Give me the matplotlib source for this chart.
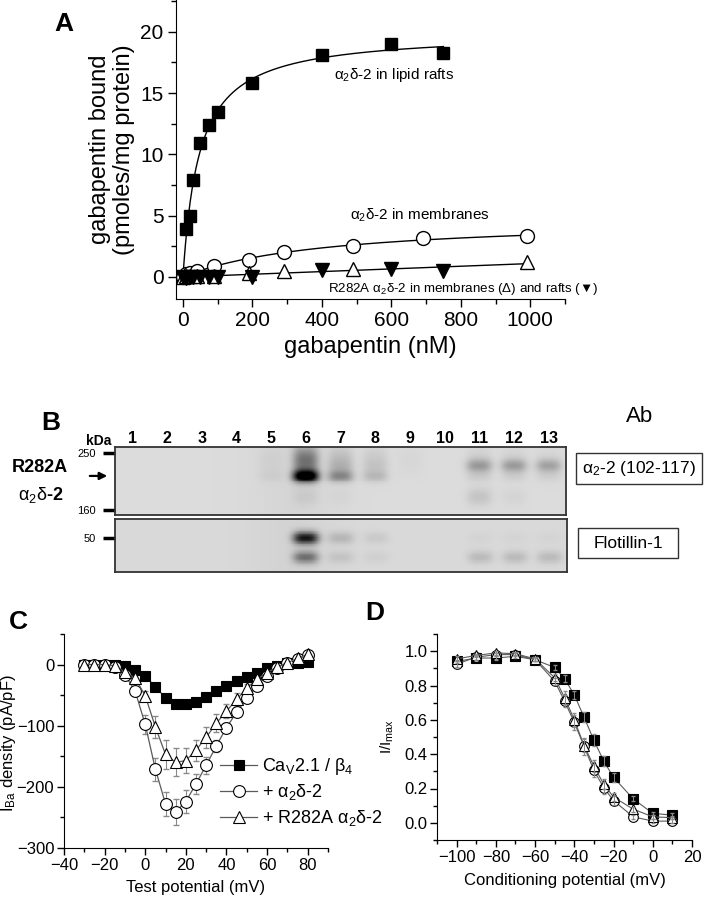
import numpy as np
import matplotlib.pyplot as plt
from matplotlib import font_manager
from matplotlib.patches import Rectangle
from matplotlib.ticker import MultipleLocator, NullLocator

plt.rcParams['font.family'] = ['Liberation Sans', 'DejaVu Sans']
plt.rcParams['mathtext.fontset'] = 'custom'
plt.rcParams['mathtext.rm'] = 'Liberation Sans'
plt.rcParams['mathtext.it'] = 'Liberation Sans:italic'
plt.rcParams['mathtext.bf'] = 'Liberation Sans:bold'

names = {f.name for f in font_manager.fontManager.ttflist}
narrow = 'Liberation Sans Narrow' if 'Liberation Sans Narrow' in names else 'Liberation Sans'

# ---- panel A: gabapentin binding ----
raft_x = [0, 10, 20, 30, 50, 75, 100, 200, 400, 600, 750]
raft_y = [0.0, 3.9, 5.0, 7.9, 10.9, 12.4, 13.5, 15.8, 18.1, 19.0, 18.3]
memb_x = [0, 10, 20, 40, 90, 190, 290, 490, 690, 990]
memb_y = [0.0, 0.2, 0.3, 0.5, 0.9, 1.4, 2.0, 2.55, 3.15, 3.35]
mut_memb_x = [0, 10, 20, 40, 90, 190, 290, 490, 990]
mut_memb_y = [0.0, 0.05, 0.05, 0.1, 0.1, 0.35, 0.5, 0.65, 1.25]
mut_raft_x = [0, 10, 20, 30, 50, 75, 100, 200, 400, 600, 750]
mut_raft_y = [0.0, -0.05, 0.0, 0.0, 0.0, 0.0, 0.0, 0.0, 0.55, 0.65, 0.45]

# ---- panel B: western blot (band densities per lane) ----
lane_numbers = list(range(1, 14))
alpha_band_kda = 209
alpha_band = [0, 0, 0, 0, 0.03, 0.95, 0.3, 0.12, 0, 0, 0.05, 0.04, 0.04]
alpha_smear_kda = 236
alpha_smear = [0, 0, 0, 0, 0.03, 0.4, 0.12, 0.07, 0.02, 0, 0.05, 0.04, 0.03]
alpha_upper_kda = 227
alpha_upper = [0, 0, 0, 0, 0, 0, 0.05, 0.03, 0, 0, 0.22, 0.22, 0.2]
alpha_low_kda = 177
alpha_low = [0, 0, 0, 0, 0, 0.05, 0.02, 0, 0, 0, 0.09, 0.03, 0]
flot_kda = 50
flot_band = [0, 0, 0, 0, 0, 0.75, 0.13, 0.06, 0, 0, 0.02, 0.02, 0.02]
flot_lower_kda = 43
flot_lower = [0, 0, 0, 0, 0, 0.4, 0.08, 0.04, 0, 0, 0.12, 0.12, 0.12]

# ---- panel C: I-V ----
test_v = list(range(-30, 85, 5))
iv_ctrl = [0, 0, 0, 0, -2, -9, -19, -36, -55, -64, -65, -61, -53, -44, -35, -27, -20, -13, -6, -2, 2, 3, 4]
iv_ctrl_err = [2, 2, 2, 2, 2, 2, 3, 4, 5, 6, 6, 5, 4, 4, 3, 3, 3, 2, 2, 2, 2, 2, 2]
iv_wt = [0, 0, 0, -4, -17, -43, -98, -171, -228, -241, -224, -195, -165, -133, -103, -78, -55, -35, -18, -6, 2, 9, 15]
iv_wt_err = [2, 2, 2, 3, 5, 6, 15, 19, 20, 21, 19, 16, 14, 10, 8, 6, 5, 4, 3, 3, 3, 3, 3]
iv_mut = [0, 0, 0, -2, -12, -22, -51, -102, -147, -160, -157, -140, -119, -96, -76, -57, -39, -24, -13, -4, 3, 10, 17]
iv_mut_err = [2, 2, 2, 3, 4, 5, 8, 18, 23, 23, 20, 17, 17, 15, 12, 10, 7, 5, 4, 3, 3, 3, 3]

# ---- panel D: inactivation ----
cond_v = [-100, -90, -80, -70, -60, -50, -45, -40, -35, -30, -25, -20, -10, 0, 10]
inact_ctrl = [0.94, 0.96, 0.96, 0.97, 0.95, 0.905, 0.84, 0.745, 0.615, 0.48, 0.36, 0.265, 0.14, 0.055, 0.045]
inact_ctrl_err = [0.01, 0.01, 0.01, 0.01, 0.01, 0.015, 0.02, 0.025, 0.03, 0.035, 0.03, 0.025, 0.015, 0.01, 0.01]
inact_wt = [0.925, 0.965, 0.98, 0.98, 0.95, 0.825, 0.71, 0.585, 0.445, 0.305, 0.205, 0.13, 0.035, 0.01, 0.01]
inact_wt_err = [0.02, 0.015, 0.01, 0.01, 0.01, 0.02, 0.035, 0.045, 0.05, 0.04, 0.035, 0.025, 0.01, 0.01, 0.01]
inact_mut = [0.955, 0.975, 0.99, 0.985, 0.955, 0.845, 0.73, 0.6, 0.45, 0.33, 0.225, 0.15, 0.08, 0.035, 0.03]
inact_mut_err = [0.015, 0.01, 0.01, 0.01, 0.01, 0.02, 0.04, 0.04, 0.04, 0.035, 0.03, 0.025, 0.015, 0.01, 0.01]

W, H = 717, 899
fig = plt.figure(figsize=(W / 100, H / 100), dpi=100)


def add_ax(l, t, r, b):
    return fig.add_axes([l / W, 1 - b / H, (r - l) / W, (b - t) / H])


def ftext(x, y, s, **kw):
    kw.setdefault('ha', 'center')
    kw.setdefault('va', 'center')
    return fig.text(x / W, 1 - y / H, s, **kw)


def hyperbola_fit(x, y):
    x = np.asarray(x, float)
    y = np.asarray(y, float)
    best = (np.inf, 0, 0)
    for kd in np.geomspace(1, 1e5, 4000):
        f = x / (kd + x)
        b = f @ y / (f @ f)
        r = ((y - b * f) ** 2).sum()
        if r < best[0]:
            best = (r, b, kd)
    return best[1], best[2]


# ================= A =================
axA = add_ax(176, 0, 565, 299)
for xs, ys in [(raft_x, raft_y), (memb_x, memb_y),
               (mut_memb_x + mut_raft_x, mut_memb_y + mut_raft_y)]:
    bmax, kd = hyperbola_fit(xs, ys)
    xx = np.linspace(0, max(xs), 400)
    axA.plot(xx, bmax * xx / (kd + xx), color='k', lw=1)
axA.plot(raft_x, raft_y, 's', color='k', ms=8)
axA.plot(memb_x, memb_y, 'o', mfc='white', mec='k', mew=1, ms=10)
axA.plot(mut_memb_x, mut_memb_y, '^', mfc='white', mec='k', mew=1, ms=10)
axA.plot(mut_raft_x, mut_raft_y, 'v', color='k', ms=10)
axA.set_xlim(-20, 1100)
axA.set_ylim(-1.8, 22.6)
axA.set_xticks(range(0, 1001, 200))
axA.set_yticks(range(0, 21, 5))
axA.xaxis.set_minor_locator(MultipleLocator(100))
axA.yaxis.set_minor_locator(MultipleLocator(2.5))
axA.tick_params(which='major', direction='out', length=6, width=1, labelsize=15, pad=3)
axA.tick_params(which='minor', direction='out', length=3.5, width=1)
for s in ['top', 'right']:
    axA.spines[s].set_visible(False)
axA.set_ylabel('gabapentin bound\n(pmoles/mg protein)', fontsize=17, linespacing=1.15)
axA.yaxis.set_label_coords(-0.105, 0.5)
axA.set_xlabel('gabapentin (nM)', fontsize=17, labelpad=4)
axA.text(436, 16.5, r'$\mathrm{\alpha_2\delta}$-2 in lipid rafts', fontsize=11, va='center')
axA.text(482, 5.0, r'$\mathrm{\alpha_2\delta}$-2 in membranes', fontsize=11, va='center')
axA.text(418, -0.95, r'R282A $\mathrm{\alpha_2\delta}$-2 in membranes ($\mathrm{\Delta}$) and rafts (▼)',
         fontsize=9.6, va='center', clip_on=False)
ftext(64, 24, 'A', fontsize=19, weight='bold')


# ================= B =================
def draw_blot(ax, kda_lo, kda_hi, bands, bg):
    xe = np.linspace(0.5, 13.5, 452)
    ye = np.geomspace(kda_lo, kda_hi, 70)
    xc = 0.5 * (xe[1:] + xe[:-1])
    yc = np.log(np.sqrt(ye[1:] * ye[:-1]))
    X, Y = np.meshgrid(xc, yc)
    img = np.full(X.shape, bg) - 0.025 * np.exp(-((X - 5.6) / 1.2) ** 2)
    for kda, amps, sig in bands:
        for lane, a in zip(lane_numbers, amps):
            img -= a * np.exp(-np.abs((X - lane) / 0.37) ** 3) * \
                np.exp(-0.5 * ((Y - np.log(kda)) / sig) ** 2)
    ax.pcolormesh(xe, ye, np.clip(img, 0, 1), cmap='gray', vmin=0, vmax=1, shading='flat')
    ax.set_yscale('log')
    ax.set_ylim(kda_lo, kda_hi)
    ax.set_xlim(0.5, 13.5)
    ax.yaxis.set_minor_locator(NullLocator())
    ax.tick_params(axis='y', length=9, width=2.5, direction='out', pad=5, labelsize=8)
    for s in ax.spines.values():
        s.set_color('#333333')
        s.set_linewidth(1.3)


axB1 = add_ax(115, 447, 566, 515)
draw_blot(axB1, 154, 262, [(alpha_band_kda, alpha_band, 0.035),
                            (alpha_smear_kda, alpha_smear, 0.08),
                            (alpha_upper_kda, alpha_upper, 0.035),
                            (alpha_low_kda, alpha_low, 0.05)], 0.86)
axB1.set_yticks([160, 250], labels=['160', '250'])
axB1.xaxis.tick_top()
axB1.set_xticks(lane_numbers, labels=[str(n) for n in lane_numbers])
axB1.tick_params(axis='x', length=0, pad=1, labelsize=11.5)
for lab in axB1.get_xticklabels():
    lab.set_fontweight('bold')
    lab.set_family(narrow)
axB1.annotate('', xy=(-0.011, alpha_band_kda), xycoords=('axes fraction', 'data'),
              xytext=(-0.062, alpha_band_kda), textcoords=('axes fraction', 'data'),
              arrowprops=dict(arrowstyle='-|>', color='k', lw=1.6, mutation_scale=11),
              annotation_clip=False)

axB2 = add_ax(115, 519, 567, 572)
draw_blot(axB2, 38.3, 58, [(flot_kda, flot_band, 0.035),
                            (flot_lower_kda, flot_lower, 0.035)], 0.85)
axB2.set_yticks([50], labels=['50'])
axB2.set_xticks([])

ftext(51, 423, 'B', fontsize=19, weight='bold')
ftext(99, 441, 'kDa', fontsize=10, weight='bold', family=narrow)
ftext(40, 467, 'R282A', fontsize=13, weight='bold')
ftext(41, 495, r'$\mathrm{\alpha_2\delta}$-2', fontsize=13, weight='bold')
ftext(640, 417, 'Ab', fontsize=16)
for (l, t, r, b), s in [((576, 453, 702, 484), r'$\mathrm{\alpha}_2$-2 (102-117)'),
                        ((578, 528, 678, 558), 'Flotillin-1')]:
    fig.add_artist(Rectangle((l / W, 1 - b / H), (r - l) / W, (b - t) / H,
                             transform=fig.transFigure, fc='white', ec='#333333', lw=1))
    ftext((l + r) / 2, (t + b) / 2, s, fontsize=12.5)

# ================= C =================
line_c = '#5a5a5a'
err_c = '#8a8a8a'
axC = add_ax(64, 634, 328, 848)
series_c = [(iv_ctrl, iv_ctrl_err, 's', 'k', 7, r'Ca$_{\rm V}$2.1 / $\mathrm{\beta}_4$'),
            (iv_wt, iv_wt_err, 'o', 'white', 8.5, r'+ $\mathrm{\alpha_2\delta}$-2'),
            (iv_mut, iv_mut_err, '^', 'white', 8.5, r'+ R282A $\mathrm{\alpha_2\delta}$-2')]
handles = []
for ys, es, m, fc, ms, lab in series_c:
    axC.errorbar(test_v, ys, yerr=es, fmt='none', ecolor=err_c, elinewidth=0.8, capsize=2, zorder=2)
    h, = axC.plot(test_v, ys, '-', marker=m, color=line_c, lw=0.9, mfc=fc, mec='k',
                  mew=0.8, ms=ms, label=lab, zorder=3)
    handles.append(h)
axC.set_xlim(-40, 90)
axC.set_ylim(-300, 50)
axC.set_xticks(range(-40, 81, 20))
axC.set_yticks([-300, -200, -100, 0])
axC.xaxis.set_minor_locator(MultipleLocator(10))
axC.yaxis.set_minor_locator(MultipleLocator(50))
axC.tick_params(which='major', direction='out', length=5, width=1, labelsize=12, pad=2)
axC.tick_params(which='minor', direction='out', length=3, width=1)
for s in ['top', 'right']:
    axC.spines[s].set_visible(False)
axC.set_xlabel('Test potential (mV)', fontsize=12, labelpad=5)
axC.set_ylabel(r'I$_{\rm Ba}$ density (pA/pF)', fontsize=12)
axC.yaxis.set_label_coords(-0.174, 0.49)
fig.legend(handles=handles, loc='upper left', bbox_to_anchor=(220 / W, 1 - 756 / H),
           bbox_transform=fig.transFigure, frameon=False, fontsize=13, handlelength=2.05,
           handletextpad=0.3, labelspacing=0.3, borderpad=0, borderaxespad=0)
ftext(18, 622, 'C', fontsize=19, weight='bold')

# ================= D =================
axD = add_ax(437, 634, 692, 840)
series_d = [(inact_ctrl, inact_ctrl_err, 's', 'k', 6.5),
            (inact_wt, inact_wt_err, 'o', 'white', 7),
            (inact_mut, inact_mut_err, '^', 'white', 7)]
for ys, es, m, fc, ms in series_d:
    axD.plot(cond_v, ys, '-', marker=m, color=line_c, lw=0.8, mfc=fc, mec='k', mew=0.8,
             ms=ms, zorder=3)
    axD.errorbar(cond_v, ys, yerr=es, fmt='none', ecolor=err_c, elinewidth=0.7, capsize=1.5, zorder=4)
axD.set_xlim(-110, 20)
axD.set_ylim(-0.1, 1.1)
axD.set_xticks(range(-100, 21, 20))
axD.set_yticks(np.arange(0, 1.01, 0.2))
axD.yaxis.set_major_formatter(lambda v, p: f'{v:.1f}')
axD.xaxis.set_minor_locator(MultipleLocator(10))
axD.yaxis.set_minor_locator(MultipleLocator(0.1))
axD.tick_params(which='major', direction='out', length=5, width=1, labelsize=12, pad=2)
axD.tick_params(which='minor', direction='out', length=3, width=1)
for s in ['top', 'right']:
    axD.spines[s].set_visible(False)
axD.set_xlabel('Conditioning potential (mV)', fontsize=12, labelpad=6)
axD.set_ylabel(r'I/I$_{\rm max}$', fontsize=11)
axD.yaxis.set_label_coords(-0.16, 0.5)
ftext(375, 613, 'D', fontsize=19, weight='bold')

fig.savefig('out.png', dpi=100)
